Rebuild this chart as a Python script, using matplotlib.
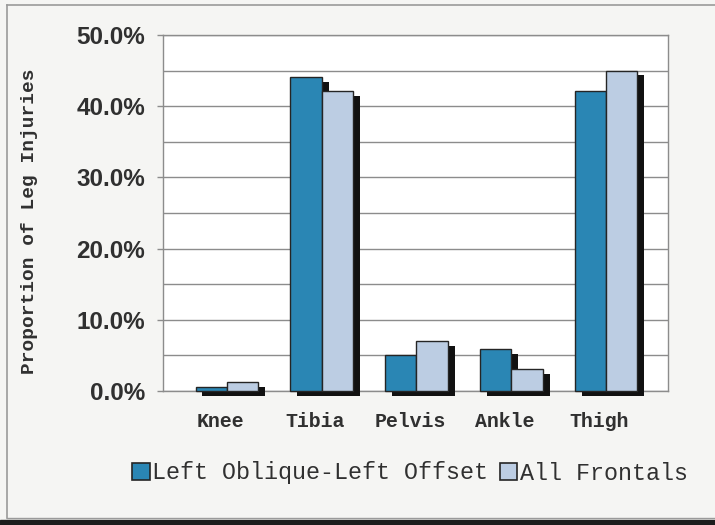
import matplotlib
matplotlib.use("Agg")
import matplotlib.pyplot as plt
import matplotlib.patheffects as pe
from matplotlib.patches import Rectangle
from matplotlib.lines import Line2D
from matplotlib.ticker import FixedLocator, FuncFormatter
import numpy as np

# Data
categories = ["Knee", "Tibia", "Pelvis", "Ankle", "Thigh"]
left_oblique = [0.5, 44.1, 5.0, 5.9, 42.2]
all_frontals = [1.2, 42.1, 7.0, 3.1, 45.0]
series_names = ["Left Oblique-Left Offset", "All Frontals"]
y_major = [0, 10, 20, 30, 40, 50]
y_minor = [5, 15, 25, 35, 45]

W, H = 715, 525
fig = plt.figure(figsize=(W / 100, H / 100), dpi=100)
fig.patch.set_facecolor("#f5f5f3")

ax = fig.add_axes([163 / W, 1 - 391 / H, (668 - 163) / W, (391 - 35) / H])
ax.set_facecolor("white")

blue = "#2a86b4"
light = "#bccde3"
edge = "#252525"
text_col = "#303030"
grid_col = "#8c8c8c"

x = np.arange(len(categories))
bw = 0.332
shadow = [pe.SimplePatchShadow(offset=(5, -3.3), shadow_rgbFace="#111111", alpha=1.0), pe.Normal()]

b1 = ax.bar(x - bw / 2, left_oblique, width=bw, color=blue, edgecolor=edge, linewidth=1.0,
            zorder=3, clip_on=False)
b2 = ax.bar(x + bw / 2, all_frontals, width=bw, color=light, edgecolor=edge, linewidth=1.0,
            zorder=4, clip_on=False)
for bars in (b1, b2):
    for p in bars:
        p.set_path_effects(shadow)

ax.set_xlim(-0.675, 4.654)
ax.set_ylim(0, 50)

ax.yaxis.set_major_locator(FixedLocator(y_major))
ax.yaxis.set_minor_locator(FixedLocator(y_minor))
ax.yaxis.set_major_formatter(FuncFormatter(lambda v, p: f"{v:.1f}%"))
ax.grid(axis="y", which="both", color=grid_col, linewidth=1.0, zorder=0)
ax.set_axisbelow(True)

ax.tick_params(axis="y", which="major", length=4.5, width=1.0, color=grid_col, pad=8.5,
               labelsize=17.5, labelcolor=text_col)
ax.tick_params(axis="y", which="minor", length=0)
for lab in ax.get_yticklabels():
    lab.set_fontfamily("Liberation Sans")
    lab.set_fontweight("bold")

ax.set_xticks(x - 0.07)
ax.set_xticklabels(categories, fontfamily="Liberation Mono", fontweight="bold",
                   fontsize=14.3, color=text_col)
ax.tick_params(axis="x", length=0, pad=15)

for s in ax.spines.values():
    s.set_color(grid_col)
    s.set_linewidth(1.0)

fig.text(30 / W, 1 - 221 / H, "Proportion of Leg Injuries", rotation=90,
         ha="center", va="center", fontfamily="Liberation Mono", fontweight="bold",
         fontsize=14, color=text_col)

handles = [Rectangle((0, 0), 1, 1, facecolor=blue, edgecolor=edge, linewidth=1.2),
           Rectangle((0, 0), 1, 1, facecolor=light, edgecolor=edge, linewidth=1.2)]
fig.legend(handles, series_names, loc="center", bbox_to_anchor=(410 / W, 1 - 473 / H),
           ncol=2, frameon=False, prop={"family": "Liberation Mono", "size": 16.8},
           handlelength=0.75, handleheight=0.75, handletextpad=0.1, columnspacing=0.5,
           labelcolor=text_col)

# page frame
fig.add_artist(Line2D([7 / W, 1], [1 - 5 / H, 1 - 5 / H], color="#9a9a9a", lw=1.2))
fig.add_artist(Line2D([7 / W, 7 / W], [1 - 5 / H, 1 - 518 / H], color="#9a9a9a", lw=1.2))
fig.add_artist(Line2D([7 / W, 1], [1 - 518 / H, 1 - 518 / H], color="#9a9a9a", lw=1.0))
fig.add_artist(Rectangle((0, 0), 1, 5 / H, transform=fig.transFigure, color="#1c1c1c"))

fig.savefig("out.png", dpi=100, facecolor=fig.get_facecolor())
